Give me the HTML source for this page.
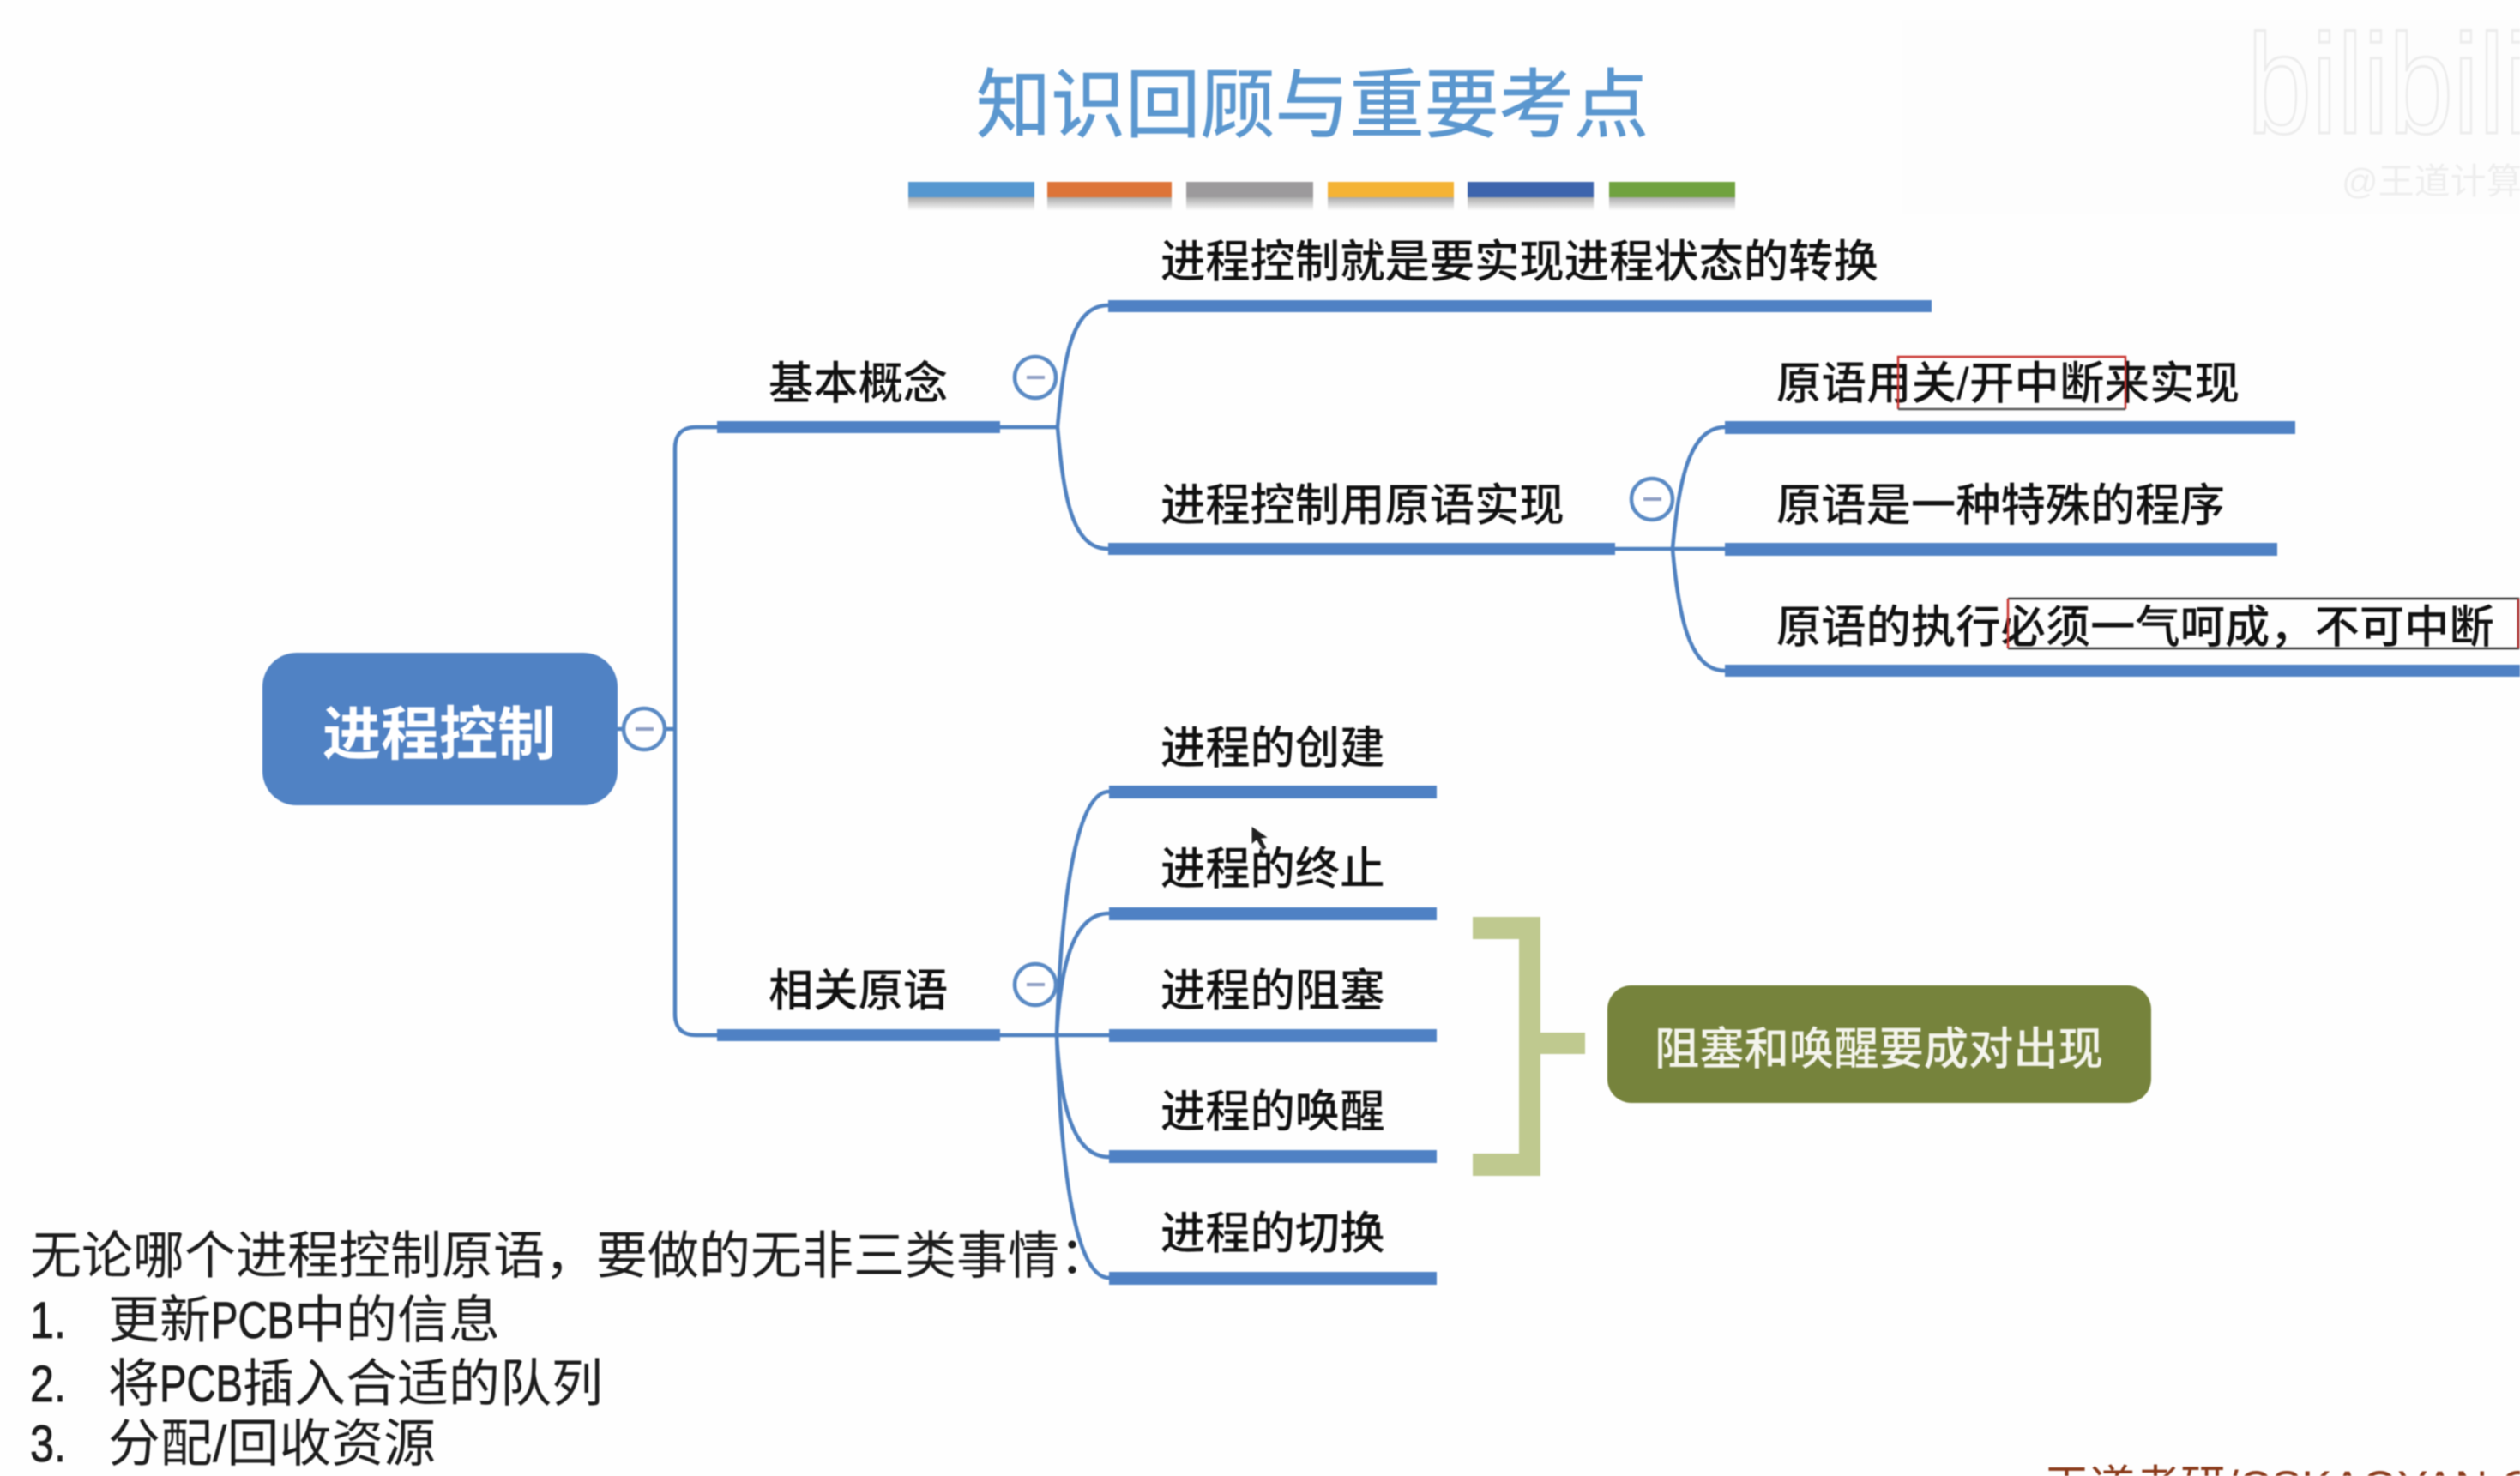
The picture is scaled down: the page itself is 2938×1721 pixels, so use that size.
<!DOCTYPE html>
<html lang="zh"><head><meta charset="utf-8"><title>知识回顾与重要考点</title>
<style>
html,body{margin:0;padding:0;background:#fefefe;width:2938px;height:1721px;overflow:hidden}
svg{display:block;filter:blur(.7px)}
text{font-family:"Liberation Sans","Noto Sans CJK SC",sans-serif;fill:#111}
.n{font-size:52.3px;font-weight:500}
.b{font-size:60px;font-weight:400;fill:#1c1c1c}
.p{font-size:60px;font-weight:400;fill:#1c1c1c;stroke:#1c1c1c;stroke-width:.8}
.l{fill:none;stroke:#4f81c0;stroke-width:4.5}
.c{fill:#fff;stroke:#5a8ac4;stroke-width:4.5}
.m{fill:#8f9fc4}
.bar{fill:#4f81c4}
</style></head><body>
<svg width="2938" height="1721" viewBox="0 0 2938 1721" xmlns="http://www.w3.org/2000/svg">
<defs><linearGradient id="sh" x1="0" y1="0" x2="0" y2="1"><stop offset="0" stop-color="#aaa"/><stop offset="1" stop-color="#fff"/></linearGradient></defs>
<rect width="2938" height="1721" fill="#fefefe"/>
<rect x="2218" y="23" width="720" height="227" fill="#fdfdfd"/>
<text x="2620" y="155" font-size="165" style="fill:none;stroke:#ececec;stroke-width:3" textLength="330" lengthAdjust="spacingAndGlyphs">bilibili</text>
<text x="2730" y="226" font-size="42" style="fill:#eeeeee">@王道计算机</text>

<text x="1138" y="153" font-size="88" textLength="784" lengthAdjust="spacingAndGlyphs" style="fill:#5b97cf;stroke:#5b97cf;stroke-width:.9">知识回顾与重要考点</text>

<g fill="url(#sh)">
<rect x="1059" y="230" width="147" height="16"/><rect x="1221" y="230" width="145" height="16"/><rect x="1383" y="230" width="148" height="16"/><rect x="1548" y="230" width="147" height="16"/><rect x="1711" y="230" width="147" height="16"/><rect x="1876" y="230" width="147" height="16"/>
</g>
<rect x="1059" y="212" width="147" height="18" fill="#5597d0"/>
<rect x="1221" y="212" width="145" height="18" fill="#dd7438"/>
<rect x="1383" y="212" width="148" height="18" fill="#9c9a9c"/>
<rect x="1548" y="212" width="147" height="18" fill="#f4b335"/>
<rect x="1711" y="212" width="147" height="18" fill="#3d64ad"/>
<rect x="1876" y="212" width="147" height="18" fill="#70a23f"/>

<!-- connectors -->
<path class="l" d="M720 850H787"/>
<path class="l" d="M836 498H812Q787 498 787 523V1182Q787 1207 812 1207H836"/>
<path class="l" d="M1166 498H1233"/>
<path class="l" d="M1292 356C1250 356 1240 416 1233 498C1240 580 1250 640 1292 640"/>
<path class="l" d="M1883 640H2011"/>
<path class="l" d="M2011 498C1970 498 1957 560 1950 640C1957 720 1970 782 2011 782"/>
<path class="l" d="M1166 1207H1293"/>
<path class="l" d="M1293 923C1250 923 1236 1080 1232 1207"/>
<path class="l" d="M1293 1065C1250 1065 1236 1130 1232 1207"/>
<path class="l" d="M1293 1349C1250 1349 1236 1285 1232 1207"/>
<path class="l" d="M1293 1490C1250 1490 1236 1340 1232 1207"/>

<!-- bars -->
<rect class="bar" x="836" y="491" width="330" height="14"/>
<rect class="bar" x="836" y="1200" width="330" height="14"/>
<rect class="bar" x="1292" y="350" width="960" height="14"/>
<rect class="bar" x="1292" y="633" width="591" height="14"/>
<rect class="bar" x="2011" y="491" width="665" height="15"/>
<rect class="bar" x="2011" y="633" width="644" height="15"/>
<rect class="bar" x="2011" y="775" width="927" height="14"/>
<rect class="bar" x="1293" y="916" width="382" height="15"/>
<rect class="bar" x="1293" y="1058" width="382" height="15"/>
<rect class="bar" x="1293" y="1200" width="382" height="15"/>
<rect class="bar" x="1293" y="1341" width="382" height="15"/>
<rect class="bar" x="1293" y="1483" width="382" height="15"/>

<!-- root -->
<rect x="306" y="761" width="414" height="178" rx="40" fill="#5082c4"/>
<text x="376" y="880" font-size="68" font-weight="700" style="fill:#fff">进程控制</text>

<!-- collapse buttons -->
<circle class="c" cx="751" cy="850" r="24"/><rect class="m" x="741" y="848" width="21" height="4"/>
<circle class="c" cx="1207" cy="440" r="24"/><rect class="m" x="1197" y="438" width="21" height="4"/>
<circle class="c" cx="1207" cy="1148" r="24"/><rect class="m" x="1197" y="1146" width="21" height="4"/>
<circle class="c" cx="1926" cy="582" r="24"/><rect class="m" x="1916" y="580" width="21" height="4"/>

<!-- labels -->
<text class="n" x="896" y="465">基本概念</text>
<text class="n" x="896" y="1173">相关原语</text>
<text class="n" x="1353" y="323">进程控制就是要实现进程状态的转换</text>
<text class="n" x="1353" y="607">进程控制用原语实现</text>
<text class="n" x="2071" y="465" textLength="540">原语用关/开中断来实现</text>
<text class="n" x="2071" y="607">原语是一种特殊的程序</text>
<text class="n" x="2071" y="749">原语的执行必须一气呵成&#xFF0C;不可中断</text>
<text class="n" x="1353" y="890">进程的创建</text>
<text class="n" x="1353" y="1031">进程的终止</text>
<text class="n" x="1353" y="1173">进程的阻塞</text>
<text class="n" x="1353" y="1314">进程的唤醒</text>
<text class="n" x="1353" y="1456">进程的切换</text>

<!-- highlight boxes -->
<path d="M2213 477V416H2478V477" fill="none" stroke="#c8322e" stroke-width="2.5"/>
<path d="M2213 477H2478" fill="none" stroke="#555" stroke-width="2.5"/>
<path d="M2341 698H2936V756H2341" fill="none" stroke="#333" stroke-width="2.5"/>
<path d="M2341 698V756" fill="none" stroke="#c8322e" stroke-width="2.5"/>
<path d="M2936 698V756" fill="none" stroke="#b03030" stroke-width="2.5"/>

<!-- bracket -->
<path d="M1717 1069H1796V1371H1717V1345H1771V1095H1717Z" fill="#bfc98f"/>
<rect x="1796" y="1204" width="52" height="25" fill="#bfc98f"/>
<rect x="1874" y="1149" width="634" height="137" rx="28" fill="#76833c"/>
<text x="1929" y="1241" font-size="52.3" font-weight="500" style="fill:#f4f4ec">阻塞和唤醒要成对出现</text>

<!-- cursor -->
<path d="M1459 963L1459 985L1465 980L1472 992L1477 989L1471 978L1479 977Z" fill="#222" stroke="#fff" stroke-width="1"/>

<!-- notes -->
<text class="b" x="35" y="1485">无论哪个进程控制原语&#xFF0C;要做的无非三类事情&#xFF1A;</text>
<text class="p" x="35" y="1560" textLength="42" lengthAdjust="spacingAndGlyphs">1.</text>
<text class="b" x="126" y="1560">更新</text><text class="p" x="246" y="1560" textLength="97" lengthAdjust="spacingAndGlyphs">PCB</text><text class="b" x="343" y="1560">中的信息</text>
<text class="p" x="35" y="1634" textLength="42" lengthAdjust="spacingAndGlyphs">2.</text>
<text class="b" x="126" y="1634">将</text><text class="p" x="186" y="1634" textLength="97" lengthAdjust="spacingAndGlyphs">PCB</text><text class="b" x="283" y="1634">插入合适的队列</text>
<text class="p" x="35" y="1704" textLength="42" lengthAdjust="spacingAndGlyphs">3.</text>
<text class="b" x="126" y="1704" textLength="382" lengthAdjust="spacingAndGlyphs">分配/回收资源</text>

<text x="2383" y="1752" font-size="53" style="fill:#8a3a1a">王道考研/CSKAOYAN.COM</text>
</svg>
</body></html>
